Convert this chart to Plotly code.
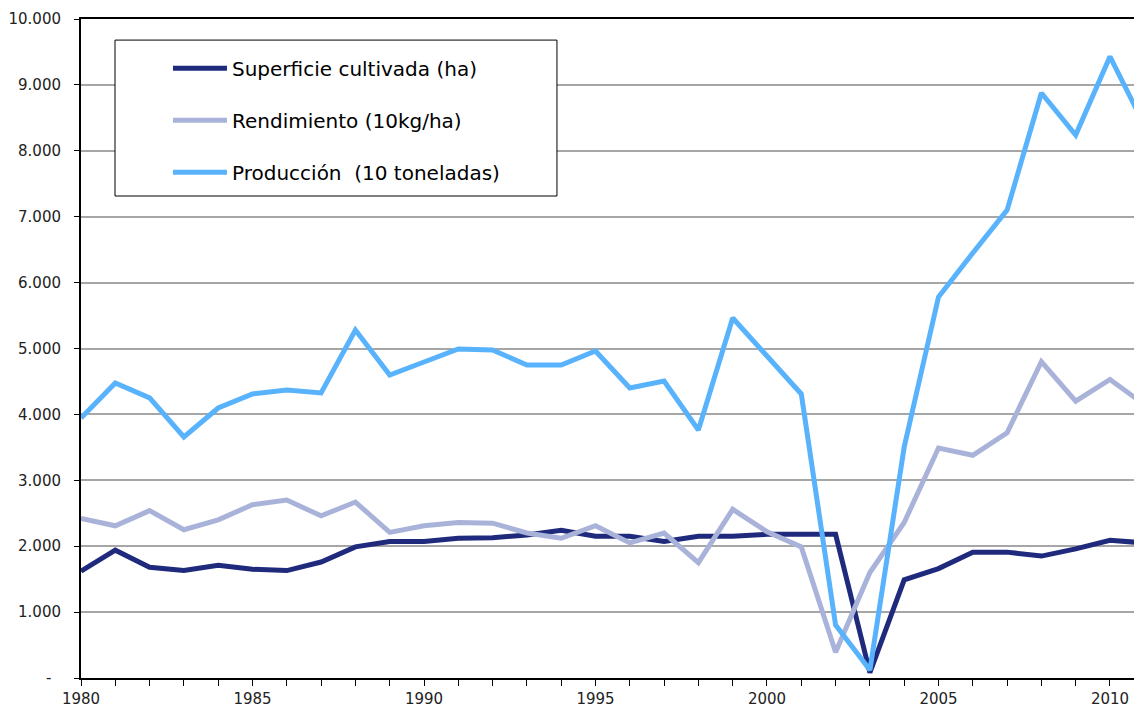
import plotly.graph_objects as go

years = list(range(1980, 2012))

superficie = [1620, 1940, 1680, 1630, 1710, 1650, 1630, 1760, 1990, 2070,
              2070, 2120, 2130, 2170, 2240, 2150, 2150, 2070, 2150, 2150,
              2180, 2180, 2180, 80, 1490, 1660, 1910, 1910, 1850, 1960,
              2090, 2050]

rendimiento = [2420, 2310, 2540, 2250, 2400, 2630, 2700, 2460, 2670, 2210,
               2310, 2360, 2350, 2200, 2120, 2310, 2050, 2200, 1750, 2560,
               2220, 1990, 390, 1600, 2360, 3490, 3380, 3720, 4800, 4200,
               4530, 4150]

produccion = [3945, 4476, 4250, 3657, 4097, 4310, 4370, 4325, 5281, 4598,
              4795, 4992, 4977, 4750, 4750, 4962, 4400, 4507, 3763, 5463,
              4886, 4310, 804, 121, 3505, 5781, 6450, 7100, 8877, 8240,
              9430, 8390]

series_names = ["Superficie cultivada (ha)", "Rendimiento (10kg/ha)", "Producción  (10 toneladas)"]
series_colors = ["#1f2a7c", "#a9b3d9", "#58b3fc"]

y_tickvals = [0, 1000, 2000, 3000, 4000, 5000, 6000, 7000, 8000, 9000, 10000]
y_ticktext = ["-\u00a0\u00a0", "1.000", "2.000", "3.000", "4.000", "5.000",
              "6.000", "7.000", "8.000", "9.000", "10.000"]
x_ticktext = [str(y) if y % 5 == 0 else "" for y in years]

fig = go.Figure()
for name, vals, col in zip(series_names, [superficie, rendimiento, produccion], series_colors):
    fig.add_trace(go.Scatter(x=years, y=vals, mode="lines", name=name,
                             legendgroup=name,
                             line=dict(color=col, width=5)))

fig.update_layout(
    width=1134, height=704,
    margin=dict(l=81, r=0, t=19, b=26, autoexpand=False),
    paper_bgcolor="white", plot_bgcolor="white",
    font=dict(family="DejaVu Sans, Verdana, sans-serif", color="#000000", size=15),
    showlegend=True,
    legend=dict(x=0.0826, y=0.955, xanchor="left", yanchor="top",
                bgcolor="rgba(0,0,0,0)", borderwidth=0,
                font=dict(size=20, color="#000000"),
                itemwidth=54,
                tracegroupgap=23),
    shapes=[dict(type="rect", xref="paper", yref="paper",
                 x0=0.0323, x1=0.452, y0=0.7314, y1=0.968,
                 fillcolor="white", line=dict(color="black", width=1),
                 layer="above")],
    xaxis=dict(range=[1980, 2010.70], tickmode="array", tickvals=years,
               ticktext=x_ticktext, ticks="outside", ticklen=6,
               tickcolor="black", tickwidth=1, automargin=False,
               showline=True, linecolor="black", linewidth=2, mirror=True,
               showgrid=False, zeroline=False,
               tickfont=dict(size=15, color="#222222")),
    yaxis=dict(range=[0, 10000], tickmode="array", tickvals=y_tickvals,
               ticktext=y_ticktext, ticks="outside", ticklen=5,
               tickcolor="black", tickwidth=1, ticklabelstandoff=10,
               automargin=False,
               showline=True, linecolor="black", linewidth=2,
               showgrid=True, gridcolor="#a6a6a6", gridwidth=1.5,
               zeroline=False,
               tickfont=dict(size=15, color="#222222")),
)

fig.write_html("out.html", config={"displayModeBar": False},
               post_script="document.body.style.margin='0';")
